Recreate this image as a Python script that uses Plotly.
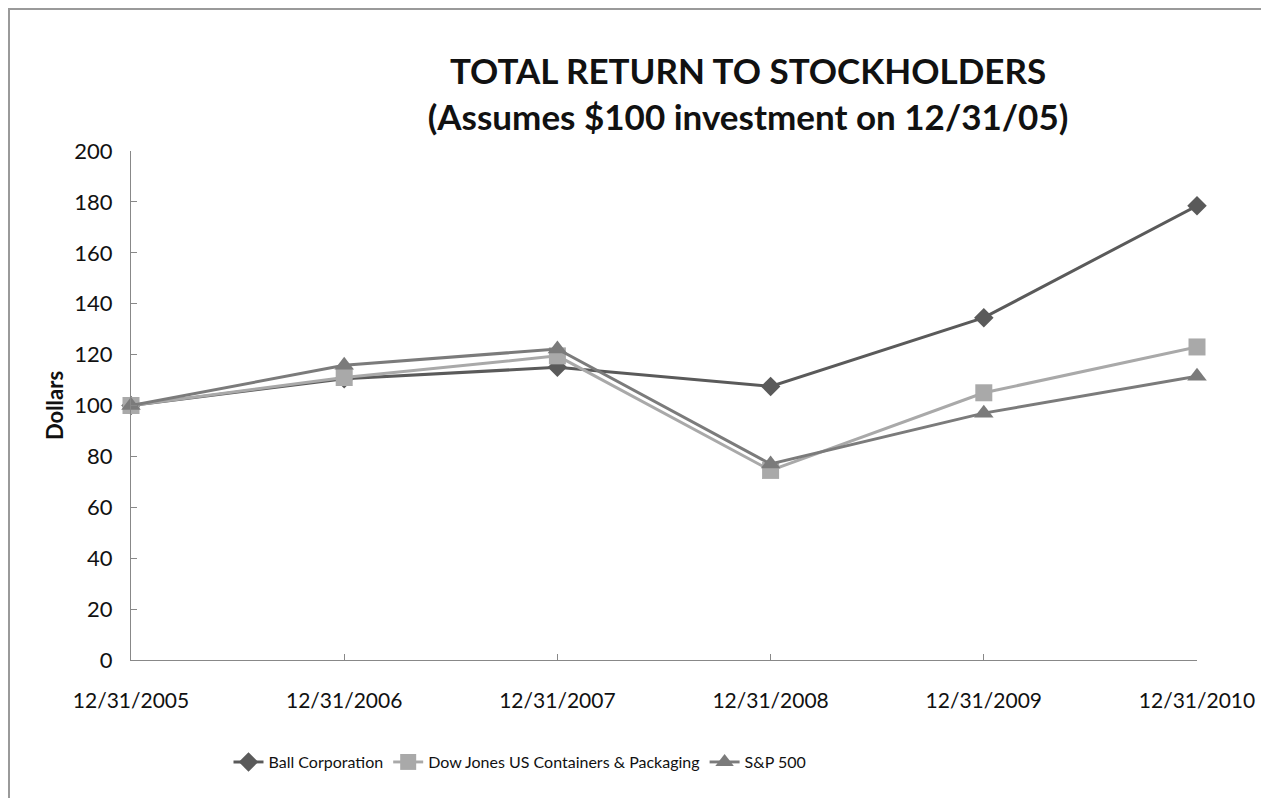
import plotly.graph_objects as go

dates = ["12/31/2005", "12/31/2006", "12/31/2007", "12/31/2008", "12/31/2009", "12/31/2010"]
ball = [100, 110.5, 115, 107.5, 134.5, 178.5]
dow = [100, 111, 119.5, 74.5, 105, 123]
sp500 = [100, 115.8, 122.2, 77, 97, 111.5]
y_ticks = [0, 20, 40, 60, 80, 100, 120, 140, 160, 180, 200]

xpos = list(range(len(dates)))

fig = go.Figure()
fig.add_trace(go.Scatter(
    x=xpos, y=ball, name="Ball Corporation", mode="lines+markers",
    line=dict(color="#5a5a5a", width=3),
    marker=dict(symbol="diamond", size=15, color="#5a5a5a"),
    cliponaxis=False))
fig.add_trace(go.Scatter(
    x=xpos, y=dow, name="Dow Jones US Containers & Packaging", mode="lines+markers",
    line=dict(color="#a9a9a9", width=3),
    marker=dict(symbol="square", size=17, color="#a9a9a9"),
    cliponaxis=False))
fig.add_trace(go.Scatter(
    x=xpos, y=sp500, name="S&P 500", mode="lines+markers",
    line=dict(color="#7b7b7b", width=3),
    marker=dict(symbol="triangle-up", size=17, color="#7b7b7b"),
    cliponaxis=False))

L, R, T, B = 131, 64, 151, 138
W, H = 1261, 798
pw, ph = W - L - R, H - T - B

def px_x(p):
    return (p - L) / pw

def px_y(p):
    return 1 - (p - T) / ph

fig.add_shape(type="rect", xref="paper", yref="paper",
              x0=px_x(9), x1=px_x(1300), y0=px_y(830), y1=px_y(9),
              line=dict(color="#9a9a9a", width=2), fillcolor="rgba(0,0,0,0)", layer="below")

fig.update_layout(
    width=W, height=H,
    margin=dict(l=L, r=R, t=T, b=B, pad=0, autoexpand=False),
    paper_bgcolor="white", plot_bgcolor="white",
    font=dict(family="Lato, Calibri, sans-serif", color="#111111"),
    title=dict(
        text="TOTAL RETURN TO STOCKHOLDERS<br>(Assumes $100 investment on 12/31/05)",
        font=dict(family="Lato, Calibri, sans-serif", size=35, color="#111111", weight="bold"),
        x=px_x(748), xanchor="center", xref="paper",
        y=1 - 84 / H, yanchor="middle", yref="container"),
    xaxis=dict(
        range=[0, 5], tickmode="array", tickvals=xpos, ticktext=dates,
        showgrid=False, zeroline=False, showline=True, linecolor="#888888", linewidth=1,
        ticks="inside", ticklen=6, tickcolor="#888888", automargin=False,
        tickfont=dict(size=21, color="#111111"), ticklabelstandoff=22),
    yaxis=dict(
        range=[0, 200], tickmode="array", tickvals=y_ticks,
        showgrid=False, zeroline=False, showline=True, linecolor="#888888", linewidth=1,
        ticks="inside", ticklen=6, tickcolor="#888888", automargin=False,
        tickfont=dict(size=22, color="#111111"), ticklabelstandoff=13,
        title=dict(text="Dollars", font=dict(size=22, weight="bold", color="#111111"), standoff=4)),
    legend=dict(
        orientation="h", x=px_x(520), xanchor="center", y=px_y(762), yanchor="middle",
        font=dict(family="Lato, sans-serif", size=16, color="#111111"),
        itemwidth=30, bgcolor="rgba(0,0,0,0)"),
    showlegend=True,
)

fig.write_html("out.html")
